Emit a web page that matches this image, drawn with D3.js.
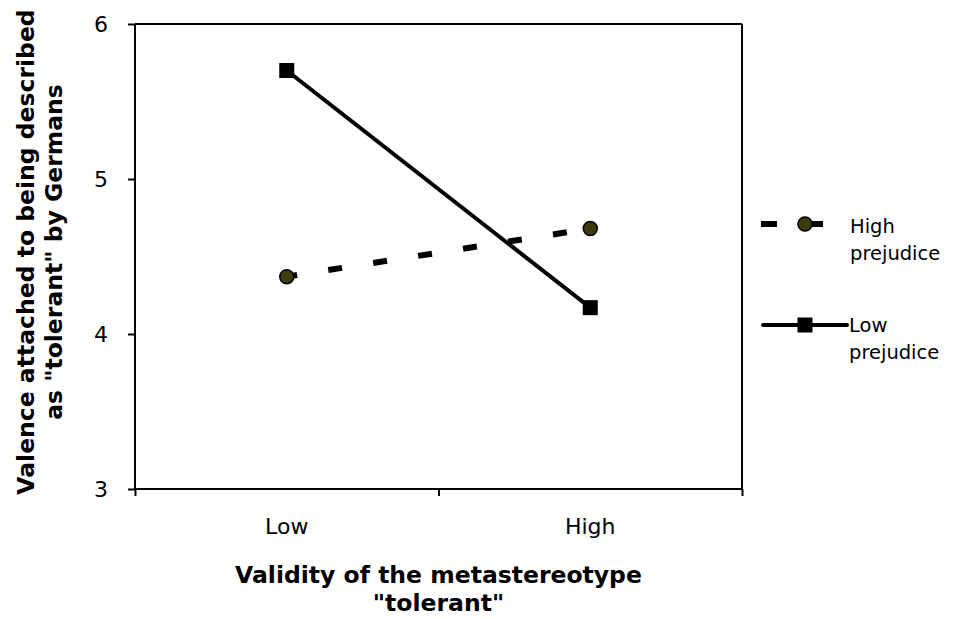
<!DOCTYPE html>
<meta charset="utf-8">
<head>
    <script src="https://d3js.org/d3.v7.min.js"></script>
    <style>
        body { margin: 0; background: #fff; }
        text { font-family: 'DejaVu Sans', Verdana, sans-serif; fill: #000; }
    </style>
</head>
<body>
    <div id="chart"></div>
    <script>

    // data
    var categories = ["Low", "High"]
    var seriesNames = ["High prejudice", "Low prejudice"]
    var highPrejudice = [4.37, 4.68]
    var lowPrejudice = [5.70, 4.17]
    var yTicks = [3, 4, 5, 6]

    var width = 953,
        height = 619,
        margin = {top: 24, left: 135, right: 211, bottom: 130}
    var w = width - margin.left - margin.right,   // 607
        h = height - margin.top - margin.bottom   // 465

    var svg = d3.select("#chart").append("svg")
        .attr("width", width)
        .attr("height", height)

    var g = svg.append("g")
        .attr("transform", "translate(" + margin.left + "," + margin.top + ")")

    var x = d3.scaleBand().domain(categories).range([0, w])
    var xEdge = d3.scaleLinear().domain([0, categories.length]).range([0, w])
    var y = d3.scaleLinear().domain([3, 6]).range([h, 0])

    // frame: top and right lines
    g.append("line").attr("x1", 0).attr("x2", w).attr("y1", 0).attr("y2", 0)
        .attr("stroke", "#000").attr("stroke-width", 2)
    g.append("line").attr("x1", w).attr("x2", w).attr("y1", 0).attr("y2", h)
        .attr("stroke", "#000").attr("stroke-width", 2)

    // y axis
    var yAxis = g.append("g")
        .call(d3.axisLeft(y).tickValues(yTicks).tickSize(7).tickPadding(20).tickFormat(d3.format("d")))
    yAxis.select(".domain").attr("stroke-width", 2).attr("d", "M0,0V" + h)
    yAxis.selectAll("line").attr("stroke-width", 2)
    yAxis.selectAll("text").style("font-size", "22px").style("font-family", "'DejaVu Sans', sans-serif")

    // x axis: ticks at the category edges
    var xAxis = g.append("g")
        .attr("transform", "translate(0," + h + ")")
        .call(d3.axisBottom(xEdge).tickValues([0, 1, 2]).tickSize(7).tickFormat(""))
    xAxis.select(".domain").attr("stroke-width", 2).attr("d", "M0,0H" + w)
    xAxis.selectAll("line").attr("stroke-width", 2)

    // category labels
    var xLabels = g.append("g")
        .attr("transform", "translate(0," + h + ")")
        .call(d3.axisBottom(x).tickSize(0).tickPadding(29))
    xLabels.select(".domain").remove()
    xLabels.selectAll("text").style("font-size", "22px").style("font-family", "'DejaVu Sans', sans-serif")

    // axis titles
    svg.append("text")
        .attr("text-anchor", "middle")
        .attr("transform", "translate(" + (margin.left + w / 2) + ",583)")
        .style("font-size", "23.5px").style("font-weight", "bold")
        .text("Validity of the metastereotype")
    svg.append("text")
        .attr("text-anchor", "middle")
        .attr("transform", "translate(" + (margin.left + w / 2) + ",611)")
        .style("font-size", "23.5px").style("font-weight", "bold")
        .text("\"tolerant\"")

    svg.append("text")
        .attr("text-anchor", "middle")
        .attr("transform", "translate(34,252) rotate(-90)")
        .style("font-size", "23.5px").style("font-weight", "bold")
        .text("Valence attached to being described")
    svg.append("text")
        .attr("text-anchor", "middle")
        .attr("transform", "translate(62,252) rotate(-90)")
        .style("font-size", "23.5px").style("font-weight", "bold")
        .text("as \"tolerant\" by Germans")

    var line = d3.line()
        .x(function(d, i) { return x(categories[i]) + x.bandwidth() / 2 })
        .y(function(d) { return y(d) })

    // high prejudice: dashed line, circles
    g.append("path")
        .datum(highPrejudice)
        .attr("d", line)
        .attr("fill", "none")
        .attr("stroke", "#000")
        .attr("stroke-width", 6)
        .attr("stroke-dasharray", "14,31.5")
        .attr("stroke-dashoffset", 3.5)

    // low prejudice: solid line, squares
    g.append("path")
        .datum(lowPrejudice)
        .attr("d", line)
        .attr("fill", "none")
        .attr("stroke", "#000")
        .attr("stroke-width", 4)

    g.selectAll(".circ")
        .data(highPrejudice)
        .enter()
        .append("circle")
        .attr("cx", function(d, i) { return x(categories[i]) + x.bandwidth() / 2 })
        .attr("cy", function(d) { return y(d) })
        .attr("r", 7)
        .attr("fill", "#3f3b0c")
        .attr("stroke", "#000")
        .attr("stroke-width", 1.5)

    g.selectAll(".sq")
        .data(lowPrejudice)
        .enter()
        .append("rect")
        .attr("x", function(d, i) { return x(categories[i]) + x.bandwidth() / 2 - 7.5 })
        .attr("y", function(d) { return y(d) - 7.5 })
        .attr("width", 15)
        .attr("height", 15)
        .attr("fill", "#000")

    // legend
    var leg1 = svg.append("g").attr("transform", "translate(0,224)")
    leg1.append("line").attr("x1", 761).attr("x2", 823).attr("y1", 0).attr("y2", 0)
        .attr("stroke", "#000").attr("stroke-width", 6).attr("stroke-dasharray", "16,30")
    leg1.append("circle").attr("cx", 805).attr("cy", 0).attr("r", 7)
        .attr("fill", "#3f3b0c").attr("stroke", "#000").attr("stroke-width", 1.5)
    leg1.append("text").attr("x", 850).attr("y", 9).style("font-size", "19.5px").text(seriesNames[0].split(" ")[0])
    leg1.append("text").attr("x", 850).attr("y", 36).style("font-size", "19.5px").text(seriesNames[0].split(" ")[1])

    var leg2 = svg.append("g").attr("transform", "translate(0,325)")
    leg2.append("line").attr("x1", 763).attr("x2", 847).attr("y1", 0).attr("y2", 0)
        .attr("stroke", "#000").attr("stroke-width", 4).attr("stroke-linecap", "round")
    leg2.append("rect").attr("x", 797.5).attr("y", -7.5).attr("width", 15).attr("height", 15).attr("fill", "#000")
    leg2.append("text").attr("x", 849).attr("y", 7).style("font-size", "19.5px").text(seriesNames[1].split(" ")[0])
    leg2.append("text").attr("x", 849).attr("y", 34).style("font-size", "19.5px").text(seriesNames[1].split(" ")[1])

    </script>
</body>
